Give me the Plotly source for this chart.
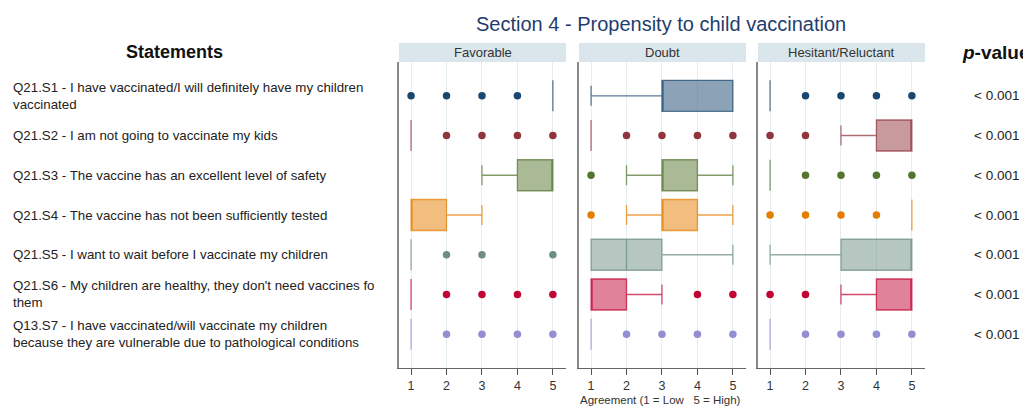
import plotly.graph_objects as go

# ---------------- data ----------------
codes = ["Q21.S1", "Q21.S2", "Q21.S3", "Q21.S4", "Q21.S5", "Q21.S6", "Q13.S7"]
statements = [
    "Q21.S1 - I have vaccinated/I will definitely have my children<br>vaccinated",
    "Q21.S2 - I am not going to vaccinate my kids",
    "Q21.S3 - The vaccine has an excellent level of safety",
    "Q21.S4 - The vaccine has not been sufficiently tested",
    "Q21.S5 - I want to wait before I vaccinate my children",
    "Q21.S6 - My children are healthy, they don't need vaccines fo<br>them",
    "Q13.S7 - I have vaccinated/will vaccinate my children<br>because they are vulnerable due to pathological conditions",
]
groups = ["Favorable", "Doubt", "Hesitant/Reluctant"]
p_values = ["< 0.001"] * 7
ticks = [1, 2, 3, 4, 5]

fav_q1 = [5, 1, 4, 1, 1, 1, 1]
fav_med = [5, 1, 5, 1, 1, 1, 1]
fav_q3 = [5, 1, 5, 2, 1, 1, 1]
fav_lo = [5, 1, 3, 1, 1, 1, 1]
fav_hi = [5, 1, 5, 3, 1, 1, 1]
fav_out = [[1, 2, 3, 4], [2, 3, 4, 5], [], [], [2, 3, 5], [2, 3, 4, 5], [2, 3, 4, 5]]

dou_q1 = [3, 1, 3, 3, 1, 1, 1]
dou_med = [3, 1, 3, 3, 2, 1, 1]
dou_q3 = [5, 1, 4, 4, 3, 2, 1]
dou_lo = [1, 1, 2, 2, 1, 1, 1]
dou_hi = [5, 1, 5, 5, 5, 3, 1]
dou_out = [[], [2, 3, 4, 5], [1], [1], [], [4, 5], [2, 3, 4, 5]]

hes_q1 = [1, 4, 1, 5, 3, 4, 1]
hes_med = [1, 5, 1, 5, 5, 5, 1]
hes_q3 = [1, 5, 1, 5, 5, 5, 1]
hes_lo = [1, 3, 1, 5, 1, 3, 1]
hes_hi = [1, 5, 1, 5, 5, 5, 1]
hes_out = [[2, 3, 4, 5], [1, 2], [2, 3, 4, 5], [1, 2, 3, 4], [], [1, 2], [2, 3, 4, 5]]

panels = [
    (fav_q1, fav_med, fav_q3, fav_lo, fav_hi, fav_out),
    (dou_q1, dou_med, dou_q3, dou_lo, dou_hi, dou_out),
    (hes_q1, hes_med, hes_q3, hes_lo, hes_hi, hes_out),
]

colors = [(26, 71, 111), (144, 53, 59), (85, 117, 47), (227, 126, 0),
          (110, 142, 132), (193, 5, 52), (147, 141, 210)]

# ---------------- figure ----------------
# the page body has an 8px margin, so the figure is placed at (8, 8)
OFF = 8
W, H = 1031 - OFF, 407 - OFF
FONT = "Liberation Sans, Arial, Helvetica, sans-serif"

def px_x(v):
    return (v - OFF) / W

def px_y(v):
    return (H - (v - OFF)) / H

x_domains = [(399, 566), (579, 746), (758, 925)]
y_top, y_bot = 62, 368

fig = go.Figure()

for p, (q1, med, q3, lo, hi, outs) in enumerate(panels):
    xa = "x" if p == 0 else f"x{p+1}"
    ya = "y" if p == 0 else f"y{p+1}"
    for i, code in enumerate(codes):
        r, g, b = colors[i]
        fig.add_trace(go.Box(
            y=[code], q1=[q1[i]], median=[med[i]], q3=[q3[i]],
            lowerfence=[lo[i]], upperfence=[hi[i]],
            orientation="h", width=0.78, whiskerwidth=0.65,
            fillcolor=f"rgba({r},{g},{b},0.5)",
            line=dict(color=f"rgba({r},{g},{b},0.72)", width=1.3),
            boxpoints=False, hoverinfo="skip", showlegend=False,
            xaxis=xa, yaxis=ya,
        ))
        if outs[i]:
            fig.add_trace(go.Scatter(
                x=outs[i], y=[code] * len(outs[i]), mode="markers",
                marker=dict(color=f"rgb({r},{g},{b})", size=7.5),
                hoverinfo="skip", showlegend=False, xaxis=xa, yaxis=ya,
            ))

layout = dict(
    width=W, height=H, margin=dict(l=0, r=0, t=0, b=0),
    paper_bgcolor="white", plot_bgcolor="white", showlegend=False,
    font=dict(family=FONT, color="#333333"),
)
for p in range(3):
    sx = "" if p == 0 else str(p + 1)
    layout[f"xaxis{sx}"] = dict(
        domain=[px_x(x_domains[p][0]), px_x(x_domains[p][1])],
        anchor=f"y{sx}", range=[0.66, 5.37], tickvals=ticks,
        showgrid=True, gridcolor="#e6eff0", gridwidth=1, zeroline=False,
        showline=True, linecolor="#666666", linewidth=1.3,
        ticks="outside", ticklen=6, tickcolor="#555555",
        tickfont=dict(size=12.5, color="#333333"),
    )
    layout[f"yaxis{sx}"] = dict(
        domain=[px_y(y_bot), px_y(y_top)], anchor=f"x{sx}",
        type="category", categoryorder="array", categoryarray=codes,
        range=[6.85, -0.85], showgrid=False, zeroline=False,
        showticklabels=False, ticks="",
        showline=True, linecolor="#888888", linewidth=2,
    )
fig.update_layout(**layout)

shapes = []
annotations = []
for p, name in enumerate(groups):
    x0, x1 = x_domains[p]
    shapes.append(dict(type="rect", xref="paper", yref="paper",
                       x0=px_x(x0), x1=px_x(x1), y0=px_y(62), y1=px_y(43),
                       fillcolor="#dae6ec", line=dict(width=0), layer="below"))
    annotations.append(dict(text=name, xref="paper", yref="paper",
                            x=px_x((x0 + x1) / 2), y=px_y(52.5),
                            showarrow=False, xanchor="center", yanchor="middle",
                            font=dict(size=13, color="#333333")))

annotations.append(dict(text="Section 4 - Propensity to child vaccination",
                        xref="paper", yref="paper", x=px_x(661), y=px_y(24),
                        showarrow=False, xanchor="center", yanchor="middle",
                        font=dict(size=20, color="#1f3d6d")))
annotations.append(dict(text="<b>Statements</b>", xref="paper", yref="paper",
                        x=px_x(174), y=px_y(52), showarrow=False,
                        xanchor="center", yanchor="middle",
                        font=dict(size=18, color="#111111")))
annotations.append(dict(text="<b><i>p</i>-value</b>", xref="paper", yref="paper",
                        x=px_x(996), y=px_y(52), showarrow=False,
                        xanchor="center", yanchor="middle",
                        font=dict(size=19, color="#111111")))
annotations.append(dict(text="Agreement (1 = Low\u00a0\u00a0\u00a05 = High)",
                        xref="paper", yref="paper", x=px_x(660), y=px_y(400),
                        showarrow=False, xanchor="center", yanchor="middle",
                        font=dict(size=11.5, color="#333333")))
for i, code in enumerate(codes):
    annotations.append(dict(text=statements[i], xref="paper", yref="y",
                            x=px_x(11), y=code, showarrow=False,
                            xanchor="left", yanchor="middle", align="left",
                            font=dict(size=13.3, color="#222222")))
    annotations.append(dict(text=p_values[i], xref="paper", yref="y",
                            x=px_x(996), y=code, showarrow=False,
                            xanchor="center", yanchor="middle",
                            font=dict(size=13.5, color="#222222")))

fig.update_layout(shapes=shapes, annotations=annotations)
fig.write_html("out.html")
